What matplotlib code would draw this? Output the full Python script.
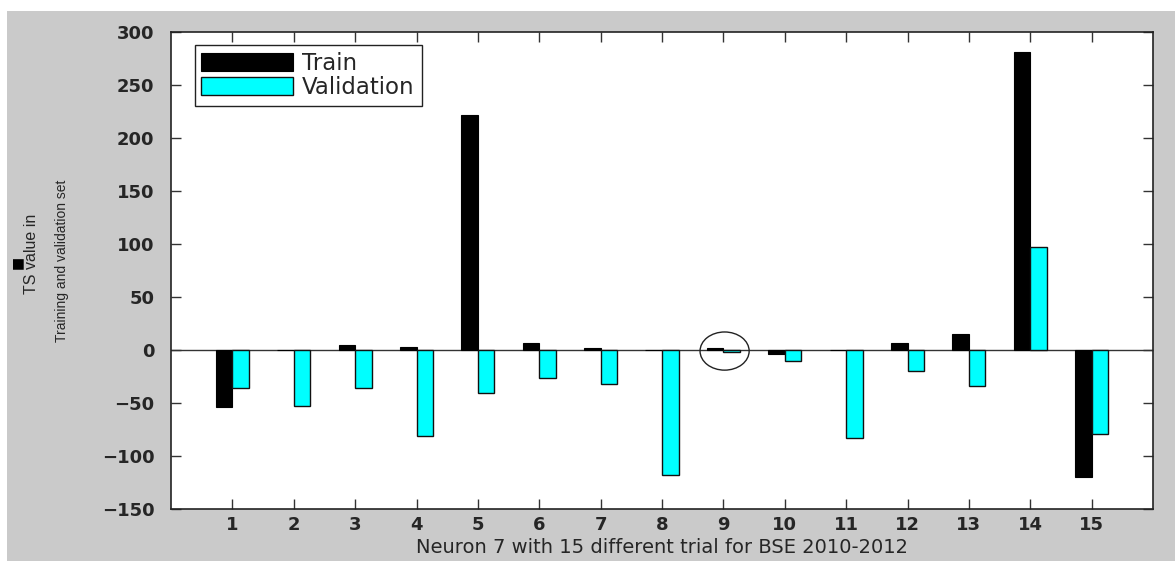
import matplotlib
matplotlib.use("Agg")
import matplotlib.pyplot as plt
from matplotlib.patches import Rectangle, Ellipse
import numpy as np

# ==========================================
# DATA
# ==========================================
trials = np.arange(1, 16)
train = [-54, 0, 5, 3, 222, 7, 2, 0, 2, -4, 0, 7, 15, 281, -120]
validation = [-36, -53, -36, -81, -41, -26, -32, -118, -2, -10, -83, -20, -34, 97, -79]
y_ticks = [-150, -100, -50, 0, 50, 100, 150, 200, 250, 300]

COLOR_BG = '#cacaca'
COLOR_TEXT = '#262626'
COLOR_CYAN = '#00ffff'

W, H = 1175, 561
fig = plt.figure(figsize=(W / 100, H / 100), dpi=100, facecolor='white')

# grey MATLAB figure background (white strip on top and left like the screenshot)
fig.patches.append(Rectangle((7 / W, 0), 1, 1 - 11 / H, transform=fig.transFigure,
                             facecolor=COLOR_BG, edgecolor='none', zorder=-10))

ax = fig.add_axes([171 / W, 1 - 509 / H, (1153 - 171) / W, (509 - 32) / H])
ax.set_facecolor('white')

bw = 0.27
ax.bar(trials - bw / 2, train, width=bw, color='black', edgecolor='black',
       linewidth=0.8, label='Train', zorder=3)
ax.bar(trials + bw / 2, validation, width=bw, color=COLOR_CYAN, edgecolor='#111111',
       linewidth=1.0, label='Validation', zorder=3)

# baseline at zero
ax.axhline(0, color='#333333', linewidth=1.0, zorder=2)

# circle highlighting trial 9
ax.add_patch(Ellipse((9.02, -1), 0.8, 36, facecolor='none', edgecolor='#222222',
                     linewidth=1.0, zorder=4))

ax.set_xlim(0, 16)
ax.set_ylim(-150, 300)
ax.set_xticks(trials)
ax.set_yticks(y_ticks)

for s in ax.spines.values():
    s.set_color('#222222')
    s.set_linewidth(1.2)
ax.tick_params(axis='both', direction='in', top=True, right=True, length=7,
               width=1.0, color='#333333', labelcolor=COLOR_TEXT, labelsize=13)
ax.tick_params(axis='y', pad=12)
ax.tick_params(axis='x', pad=5)
for lab in ax.get_xticklabels() + ax.get_yticklabels():
    lab.set_fontweight('bold')

ax.set_xlabel("Neuron 7 with 15 different trial for BSE 2010-2012", fontsize=14,
              color=COLOR_TEXT, labelpad=3)

# two-line rotated y label, placed like the reference
narrow = ['Liberation Sans', 'DejaVu Sans']
fig.text(31 / W, 1 - 254 / H, "TS value in", rotation=90, ha='center', va='center',
         fontsize=11.5, color=COLOR_TEXT, family=narrow)
fig.text(62 / W, 1 - 261 / H, "Training and validation set", rotation=90,
         ha='center', va='center', fontsize=10, color=COLOR_TEXT, family=narrow)
fig.text(17 / W, 1 - 262 / H, "\u25a0", rotation=90, ha='center', va='center',
         fontsize=10, color='black')

leg = ax.legend(loc='upper left', bbox_to_anchor=(0.024, 0.973), fontsize=16.5,
                handlelength=4.0, handleheight=0.87, labelspacing=0.05,
                handletextpad=0.4, borderpad=0.3, borderaxespad=0,
                fancybox=False, framealpha=1, edgecolor='#222222')
leg.get_frame().set_linewidth(1.0)
for t in leg.get_texts():
    t.set_color(COLOR_TEXT)

fig.savefig('out.png', dpi=100, facecolor=fig.get_facecolor())
